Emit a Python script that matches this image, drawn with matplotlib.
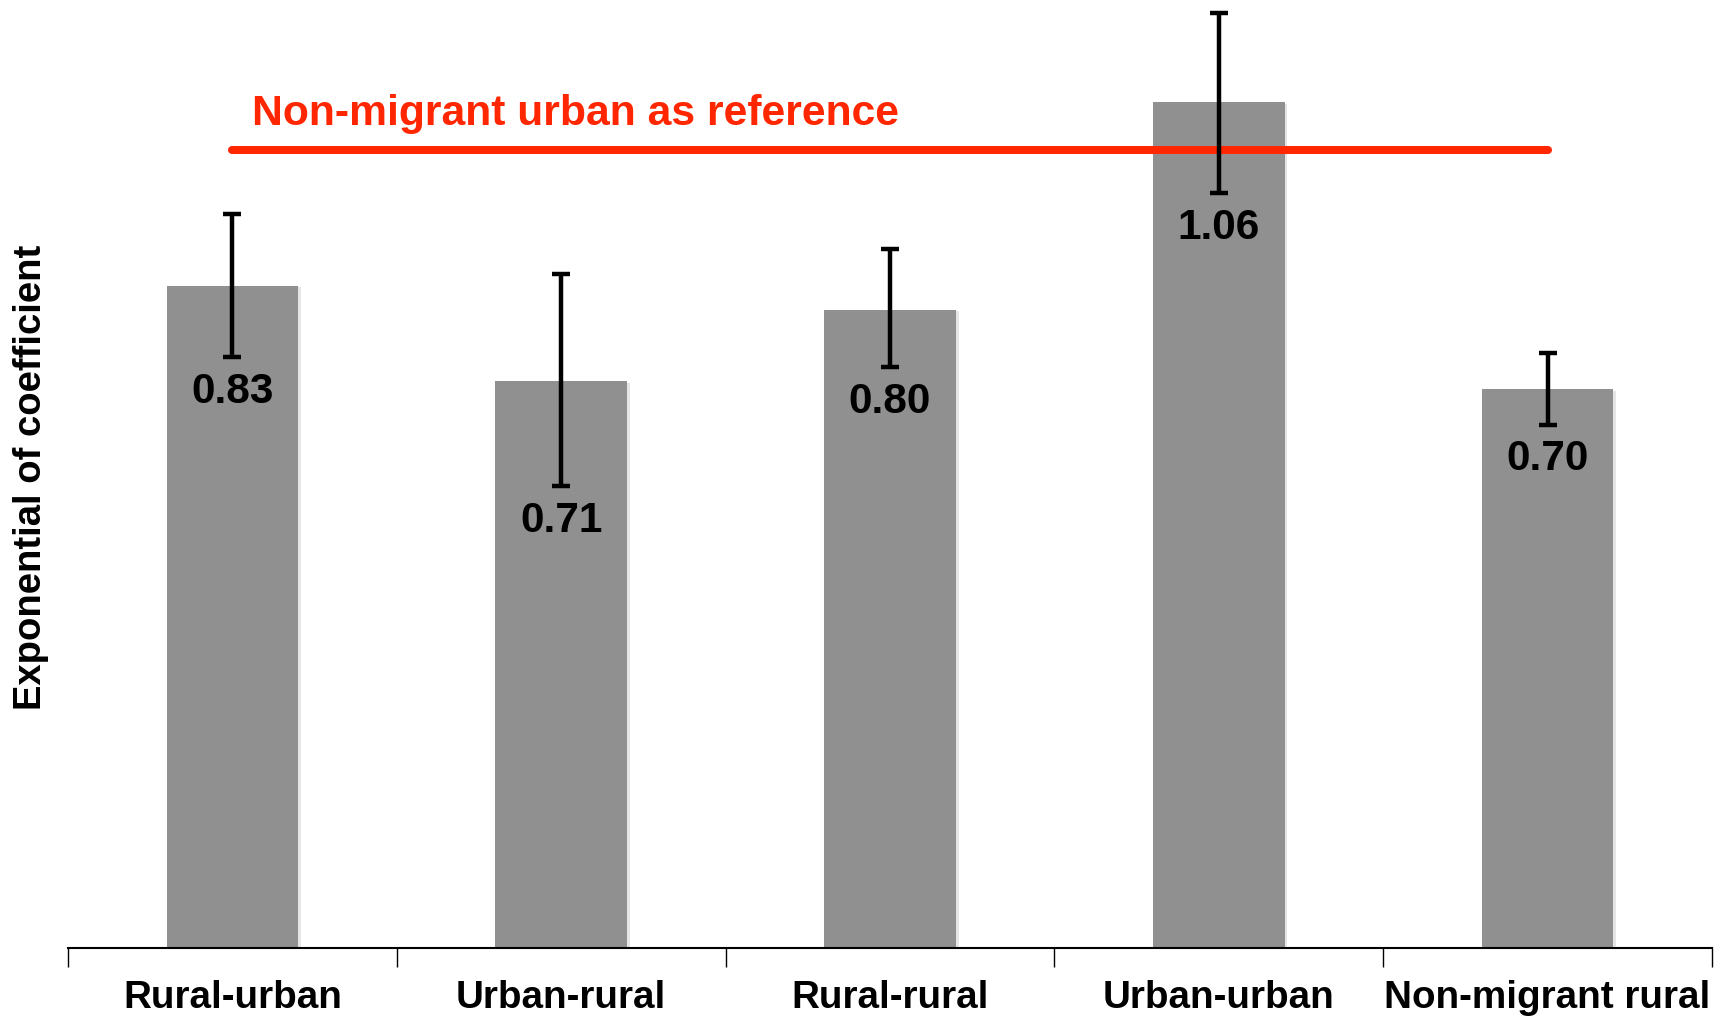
import matplotlib
matplotlib.use("Agg")
import matplotlib.pyplot as plt
import matplotlib.patheffects as pe

categories = ["Rural-urban", "Urban-rural", "Rural-rural", "Urban-urban", "Non-migrant rural"]
values = [0.83, 0.71, 0.80, 1.06, 0.70]
ci_low = [0.741, 0.579, 0.728, 0.946, 0.656]
ci_high = [0.920, 0.844, 0.876, 1.172, 0.746]
value_labels = ["0.83", "0.71", "0.80", "1.06", "0.70"]
reference_value = 1.0
reference_text = "Non-migrant urban as reference"

plt.rcParams['font.family'] = ['Liberation Sans', 'DejaVu Sans']
plt.rcParams['font.weight'] = 'bold'

fig = plt.figure(figsize=(17.29, 10.16), dpi=100)
ax = fig.add_axes([68/1729, 68/1016, (1712-68)/1729, 948/1016])

x = list(range(len(categories)))
bars = ax.bar(x, values, width=0.4, color='#909090', zorder=2)
for b in bars:
    b.set_path_effects([pe.SimplePatchShadow(offset=(2, -1), shadow_rgbFace='#000000', alpha=0.1), pe.Normal()])

ax.plot([x[0], x[-1]], [reference_value, reference_value], color='#FF2600', lw=5.8,
        solid_capstyle='round', zorder=3)

yerr = [[v - l for v, l in zip(values, ci_low)], [h - v for v, h in zip(values, ci_high)]]
ax.errorbar(x, values, yerr=yerr, fmt='none', ecolor='black', elinewidth=3.2,
            capsize=6.5, capthick=3.2, zorder=4)

for xi, lo, lab in zip(x, ci_low, value_labels):
    ax.annotate(lab, xy=(xi, lo), xytext=(0, -33), textcoords='offset points',
                ha='center', va='baseline', fontsize=30.5, fontweight='bold', color='black', zorder=5)

ax.text(0.06, 1.045, reference_text, color='#FF2600', fontsize=30.7, fontweight='bold',
        ha='left', va='center', zorder=5)

ax.set_xlim(-0.5, len(categories) - 0.5)
ax.set_ylim(0, 948/798)

for s in ['top', 'right', 'left']:
    ax.spines[s].set_visible(False)
ax.spines['bottom'].set_linewidth(1.5)
ax.set_yticks([])

ax.set_xticks([i - 0.5 for i in range(len(categories) + 1)])
ax.set_xticklabels([])
ax.tick_params(axis='x', which='major', length=14, width=1.0, direction='out')
ax.set_xticks(x, minor=True)
ax.set_xticklabels(categories, minor=True, fontsize=27.8, fontweight='bold')
ax.tick_params(axis='x', which='minor', length=0, pad=23)

ax.set_ylabel("Exponential of coefficient", fontsize=27.5, fontweight='bold')
ax.yaxis.set_label_coords(-0.0113, 0.496)

fig.savefig("out.png", dpi=100)
